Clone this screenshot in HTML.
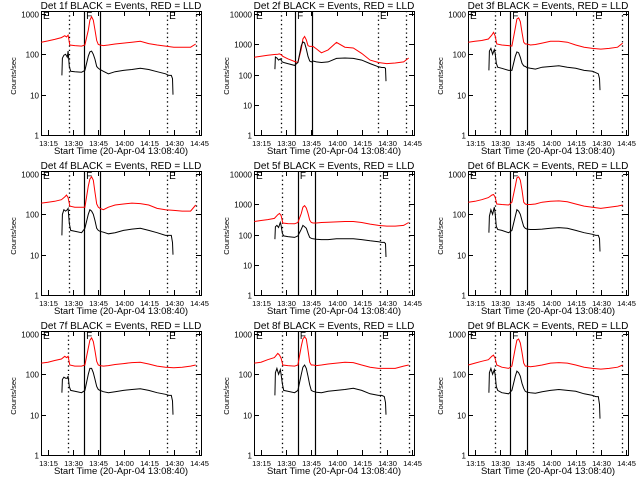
<!DOCTYPE html>
<html><head><meta charset="utf-8"><style>
html,body{margin:0;padding:0;background:#fff;width:640px;height:480px;overflow:hidden}
svg text{font-family:"Liberation Sans",sans-serif;fill:#000}
</style></head><body>
<svg id="chart" width="640" height="480" viewBox="0 0 640 480" xmlns="http://www.w3.org/2000/svg"></svg>
<script>
// ---- data ----
const panelNames = ["Det 1f","Det 2f","Det 3f","Det 4f","Det 5f","Det 6f","Det 7f","Det 8f","Det 9f"];
const panelMaxDecade = [3,4,3,3,4,3,3,3,3];
const xTickMinutes = [0,15,30,45,60,75,90];
const xTickLabels = ["13:15","13:30","13:45","14:00","14:15","14:30","14:45"];
// minutes since 13:15
const redT = [-4,0,4,8,10,11,12,13,16,20,22,24,25,26,27,28,29,30,31,33,36,40,45,50,55,60,65,70,75,80,85,88];
const blkT = [8.3,8.6,9.5,10.5,11.5,12,12.7,13.5,16,20,22,24,25,26,27,28,29,30,31,33,36,40,45,50,55,60,65,70,72,73.5,74.2,74.5];
const red1 = [200,215,235,260,290,270,300,170,165,160,170,400,700,850,700,400,220,175,170,165,170,180,190,200,210,185,170,160,150,150,150,180];
const blk1 = [30,80,95,100,85,120,50,38,37,36,40,90,115,120,100,75,50,45,42,38,33,37,40,42,45,42,37,33,30,30,25,10];
const red2 = [370,400,430,460,470,480,450,400,330,270,250,700,1500,1800,1400,900,850,850,850,700,520,650,1150,800,750,500,300,250,230,240,260,350];
const blk2 = [150,380,350,300,330,300,260,250,230,200,250,900,1200,1100,700,400,280,260,280,260,250,260,340,350,340,300,230,180,170,170,160,60];
const red3 = [200,210,220,240,300,350,290,180,170,165,160,450,750,800,650,350,200,180,180,170,175,190,210,210,200,170,150,140,135,140,150,190];
const blk3 = [40,120,140,100,130,110,60,48,45,40,40,90,115,110,85,60,52,50,47,45,43,48,50,52,48,45,40,38,35,33,25,13];
const red4 = [190,200,210,230,270,300,260,160,150,150,150,500,750,850,700,350,180,150,140,130,150,170,180,190,185,170,140,130,125,120,120,170];
const blk4 = [30,100,130,120,130,140,60,40,38,35,45,100,130,120,100,70,45,40,38,36,33,35,40,43,45,40,35,30,30,30,20,10];
const red5 = [270,290,310,340,450,500,420,240,230,225,250,500,800,900,750,500,300,250,240,240,250,255,260,270,270,250,220,200,190,190,200,250];
const blk5 = [70,180,200,170,250,200,110,90,85,80,90,150,200,180,160,110,80,75,72,70,68,68,72,72,72,68,62,58,55,55,50,18];
const red6 = [200,210,230,260,300,310,270,180,175,170,200,500,800,850,700,400,200,180,175,175,180,200,210,215,205,180,160,150,140,150,160,170];
const blk6 = [35,90,130,100,150,110,50,42,40,35,40,90,130,120,100,70,50,45,43,42,42,43,45,47,45,40,35,32,30,30,25,12];
const red7 = [190,200,220,240,280,260,280,170,160,160,170,450,700,800,650,380,210,170,165,160,165,175,185,195,200,180,160,150,145,150,160,170];
const blk7 = [35,75,85,80,80,90,50,40,38,35,40,100,140,140,110,75,50,42,40,37,35,37,40,42,44,40,35,32,30,30,22,10];
const red8 = [190,200,230,260,330,300,250,170,165,160,170,500,750,850,750,400,200,170,170,165,170,180,190,200,195,170,150,140,140,140,160,170];
const blk8 = [30,110,140,100,130,100,60,40,38,35,40,100,150,170,140,90,55,40,38,36,35,38,40,42,45,40,33,30,30,28,20,10];
const red9 = [170,190,210,230,280,300,250,170,150,140,160,450,700,750,600,350,190,160,160,155,160,170,190,195,190,170,150,140,135,140,150,170];
const blk9 = [35,110,140,100,130,100,50,40,35,33,40,90,120,110,90,60,45,38,36,35,34,37,40,42,40,38,33,30,28,28,18,8];
const redSeries = [red1,red2,red3,red4,red5,red6,red7,red8,red9];
const blkSeries = [blk1,blk2,blk3,blk4,blk5,blk6,blk7,blk8,blk9];
// marker line times (min since 13:15): dotted, solid, solid, dotted, dotted
const dotted1 = [12.5,12,12,12.5,12.5,12,12,12.5,12];
const solidA  = [21.5,20.3,21,21.5,22,21,21.5,22,21];
const solidB  = [31,30.4,31,31,32,31,31,32,31];
const dotted2 = [71,69.7,70.5,71,71,70.5,71,71,70.5];
const dotted3 = [88,86.5,87.5,88,88,87.5,88,88,87.5];

// ---- drawing ----
const NS = "http://www.w3.org/2000/svg";
const svg = document.getElementById("chart");
function mk(tag, attrs, parent){
  const e = document.createElementNS(NS, tag);
  for (const k in attrs) e.setAttribute(k, attrs[k]);
  (parent||svg).appendChild(e);
  return e;
}
const colX = [0,213,427], rowY = [0,160,320];
const PL = 41, PR = 201, PT = 11, PB = 135, PTOPDEC = 14;

for (let p = 0; p < 9; p++) {
  const ox = colX[p%3], oy = rowY[Math.floor(p/3)];
  const g = mk("g", {transform:`translate(${ox},${oy})`});
  
  
  const maxD = panelMaxDecade[p];
  const perDec = (PB - PTOPDEC) / maxD;
  const xs = m => 48 + m*1.678;
  const ys = v => Math.max(PT, PB - Math.log10(Math.max(v,1))*perDec);

  const fr = mk("rect", {x:PL+0.5,y:PT+0.5,width:PR-PL,height:PB-PT,fill:"none",stroke:"#000","stroke-width":1}, g);
  
  

  for (let d = 0; d <= maxD; d++) {
    const y = Math.round(ys(Math.pow(10,d)))+0.5;
    mk("line",{x1:PL,x2:PL+5,y1:y,y2:y,stroke:"#000"},g);
    mk("line",{x1:PR-5,x2:PR,y1:y,y2:y,stroke:"#000"},g);
    const t = mk("text",{x:PL-2,y:y+3,"font-size":8,"text-anchor":"end"},g);
    t.textContent = String(Math.pow(10,d));
    
    
  }
  xTickMinutes.forEach((m,i) => {
    const x = Math.round(xs(m))+0.5;
    mk("line",{x1:x,x2:x,y1:PB-5,y2:PB,stroke:"#000"},g);
    mk("line",{x1:x,x2:x,y1:PT,y2:PT+5,stroke:"#000"},g);
    const t = mk("text",{x:x,y:PB+11,"font-size":7.5,"text-anchor":"middle"},g);
    t.textContent = xTickLabels[i];
    
    
  });
  const tt = mk("text",{x:121,y:9,"font-size":10,"text-anchor":"middle"},g);
  tt.textContent = panelNames[p] + " BLACK = Events, RED = LLD";
  
  
  const xl = mk("text",{x:121,y:154,"font-size":9.5,"text-anchor":"middle"},g);
  xl.textContent = "Start Time (20-Apr-04 13:08:40)";
  
  
  const yl = mk("text",{x:0,y:0,"font-size":7.5,"text-anchor":"middle",transform:"translate(16,76) rotate(-90)"},g);
  yl.textContent = "Counts/sec";
  
  

  [[dotted1[p],1],[solidA[p],0],[solidB[p],0],[dotted2[p],1],[dotted3[p],1]].forEach(([m,dot]) => {
    const x = Math.round(xs(m))+0.5;
    const l = mk("line",{x1:x,x2:x,y1:PT,y2:PB,stroke:"#000","stroke-width":dot?1.3:1.2},g);
    if (dot) l.setAttribute("stroke-dasharray","1.3,3");
    
    
  });
  [[PL+2,"E"],[xs(solidA[p])+2,"F"],[xs(dotted2[p])+2,"E"]].forEach(([x,s]) => {
    const t = mk("text",{x:x,y:PT+8,"font-size":10},g);
    t.textContent = s;
    
    
  });

  const rp = redT.map((m,i)=>`${xs(m).toFixed(1)},${ys(redSeries[p][i]).toFixed(1)}`).join(" ");
  const rl = mk("polyline",{points:rp,fill:"none",stroke:"#ff0000","stroke-width":1},g);
  
  
  const bp = blkT.map((m,i)=>`${xs(m).toFixed(1)},${ys(blkSeries[p][i]).toFixed(1)}`).join(" ");
  const bl = mk("polyline",{points:bp,fill:"none",stroke:"#000","stroke-width":1},g);
  
  
}
</script>
</body></html>
